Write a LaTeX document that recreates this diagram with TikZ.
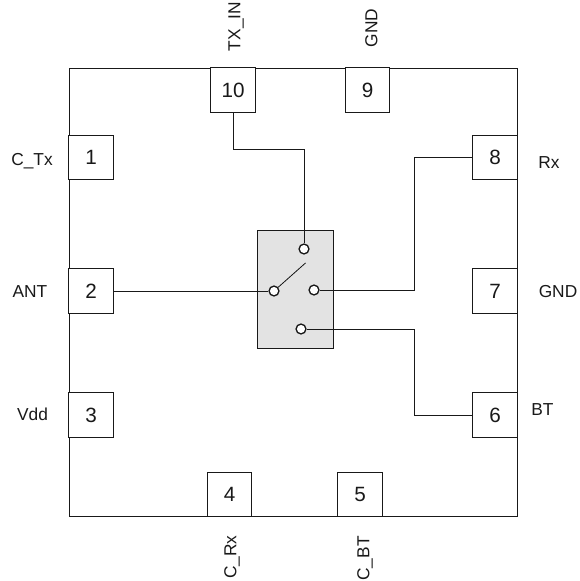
\documentclass[tikz,border=0pt]{standalone}
\usepackage{fontspec}
\setmainfont{Liberation Sans}
\usetikzlibrary{positioning}

\tikzset{
  pad/.style={draw,fill=white,minimum size=33.4pt,inner sep=0pt,font=\fontsize{15.5pt}{17pt}\selectfont},
  contact/.style={draw,fill=white,circle,minimum size=7.4pt,inner sep=0pt,line width=1pt},
  signal/.style={inner sep=0pt,text height=9.5pt,text depth=2.5pt,font=\fontsize{13pt}{15pt}\selectfont},
  wire/.style={line width=0.6pt}
}

\begin{document}
\begin{tikzpicture}[x=0.75pt,y=-0.75pt,line width=0.6pt,color=black!90]

\useasboundingbox (0,0) rectangle (579,581);

\node[draw,minimum width=336pt,minimum height=336.5pt,inner sep=0pt] (chip) at (293,292.5) {};
\node[draw,fill=black!11,minimum width=57.5pt,minimum height=88.5pt,inner sep=0pt] (sw) at (295.5,289) {};

% pads
\node[pad] (p1)  at (91,157.5)    {1};
\node[pad] (p2)  at (91,291)      {2};
\node[pad] (p3)  at (91,415)      {3};
\node[pad] (p4)  at (229.5,494.5) {4};
\node[pad] (p5)  at (360,494.5)   {5};
\node[pad] (p6)  at (495,415)     {6};
\node[pad] (p7)  at (495,291)     {7};
\node[pad] (p8)  at (495,157.5)   {8};
\node[pad] (p9)  at (367.5,90)    {9};
\node[pad] (p10) at (233,90)      {10};

% switch contacts
\node[contact] (cT) at (304,249) {};
\node[contact] (cL) at (274,291) {};
\node[contact] (cR) at (314,290) {};
\node[contact] (cB) at (301,329) {};
\coordinate (blade) at (305.5,263);

\draw[wire] (p2) -- (cL);
\draw[wire] (cL) -- (blade);
\coordinate (bendT) at (304,149);
\coordinate (bendR) at (414,157.5);
\coordinate (bendB) at (414,329);
\draw[wire] (p10) |- (bendT) -- (cT);
\draw[wire] (p8) -- (bendR) |- (cR);
\draw[wire] (cB) -- (bendB) |- (p6);

% labels
\node[signal] (lTx)  at (32,161)      {C\_Tx};
\node[signal] (lAnt) at (30,292.7)    {ANT};
\node[signal] (lVdd) at (32.5,415.7)  {Vdd};
\node[signal] (lRx)  at (549,163.7)   {Rx};
\node[signal] (lGnd) at (558,293.2)   {GND};
\node[signal] (lBt)  at (542.5,410.7) {BT};
\node[signal,rotate=90] (lIn)  at (235.7,26.5)  {TX\_IN};
\node[signal,rotate=90] (lG9)  at (372.7,28)  {GND};
\node[signal,rotate=90] (lCrx) at (231.7,557) {C\_Rx};
\node[signal,rotate=90] (lCbt) at (364.7,558.5) {C\_BT};

\end{tikzpicture}
\end{document}
